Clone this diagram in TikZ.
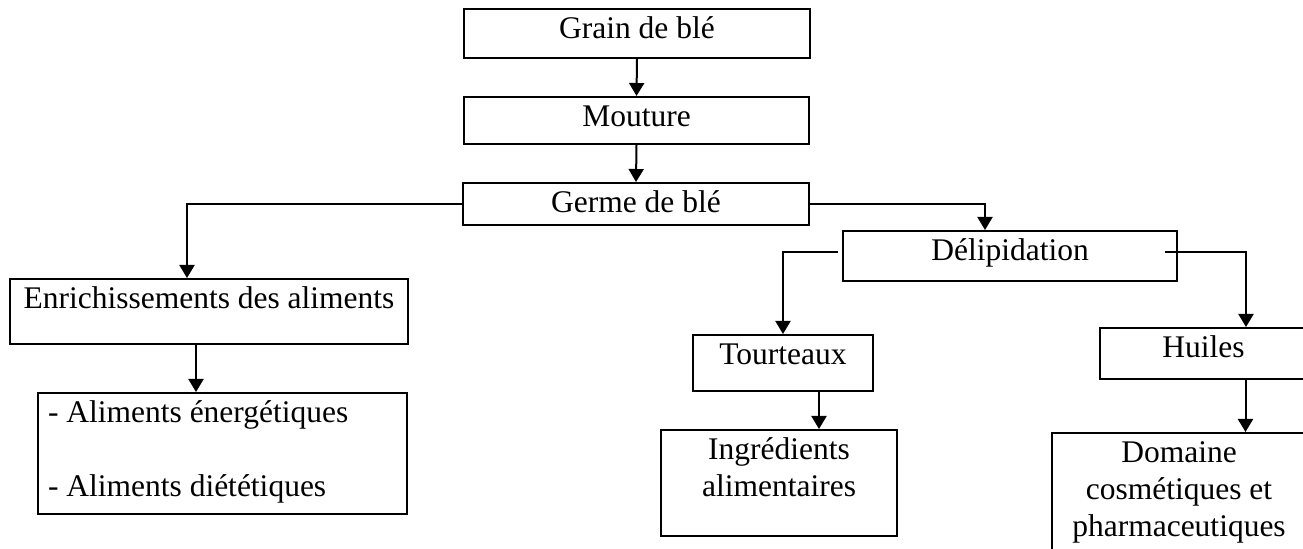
\documentclass[tikz,border=0pt]{standalone}
\usepackage{fontspec}
\setmainfont{Liberation Serif}
\usepackage{tikz}
\usetikzlibrary{arrows.meta, positioning}

\begin{document}
\begin{tikzpicture}[
    x=0.5pt, y=-0.5pt,
    block/.style = {draw, line width=1pt, anchor=north west, inner xsep=0pt, inner ysep=0pt,
                    align=flush center, text height=15pt, font=\fontsize{15.75}{18.5}\selectfont},
    arrow/.style = {line width=1pt, -{Triangle[width=7.5pt, length=6.5pt]}}
  ]

  \useasboundingbox (0,0) rectangle (1303,549);
  \clip (0,0) rectangle (1303,549);

  % Main column
  \node[block, text width=173pt, text depth=9.5pt] (grain) at (463,8) {Grain de blé};
  \node[block, text width=172.5pt, text depth=8.5pt] (mouture) at (463,96) {Mouture};
  \node[block, text width=173pt, text depth=6pt] (germe) at (462,182) {Germe de blé};

  % Left branch
  \node[block, text width=199pt, text depth=17.5pt] (enrich) at (9,278) {Enrichissements des aliments};
  \node[block, align=flush left, inner xsep=5pt, text width=174.5pt, text depth=45.5pt] (aliments) at (37,392)
    {- Aliments énergétiques\\[18.5pt]- Aliments diététiques};

  % Right branch
  \node[block, text width=167pt, text depth=10pt] (delip) at (842,230) {Délipidation};
  \node[block, text width=90pt, text depth=13pt] (tourteaux) at (692,334) {Tourteaux};
  \node[block, text width=118pt, text depth=38pt] (ingredients) at (660,429) {Ingrédients\\alimentaires};
  \node[block, text width=103.5pt, text depth=10.5pt] (huiles) at (1099,327) {Huiles};
  \node[block, text width=127pt, text depth=47.5pt] (domaine) at (1051,432)
    {Domaine\\cosmétiques et\\pharmaceutiques};

  % Arrows down the main column
  \draw[arrow] (grain.south) -- (mouture.north);
  \draw[arrow] (mouture.south) -- (germe.north);

  % Elbows out of germe
  \draw[arrow] (germe.west) -| ([xshift=-11pt]enrich.north);
  \draw[arrow] (germe.east) -| ([xshift=-12.5pt]delip.north);
  \draw[arrow] ([xshift=-6.5pt]enrich.south) -- ([xshift=-6.5pt]enrich.south |- aliments.north);

  % Elbows out of delip
  \draw[arrow] ([xshift=-2pt, yshift=2pt]delip.west) -| (tourteaux.north);
  \draw[arrow] ([xshift=-6.5pt, yshift=2pt]delip.east) -| ([xshift=21.25pt]huiles.north);

  % Last step of each branch
  \draw[arrow] ([xshift=18pt]tourteaux.south) -- ([xshift=18pt]tourteaux.south |- ingredients.north);
  \draw[arrow] ([xshift=21pt]huiles.south) -- ([xshift=21pt]huiles.south |- domaine.north);

\end{tikzpicture}
\end{document}
